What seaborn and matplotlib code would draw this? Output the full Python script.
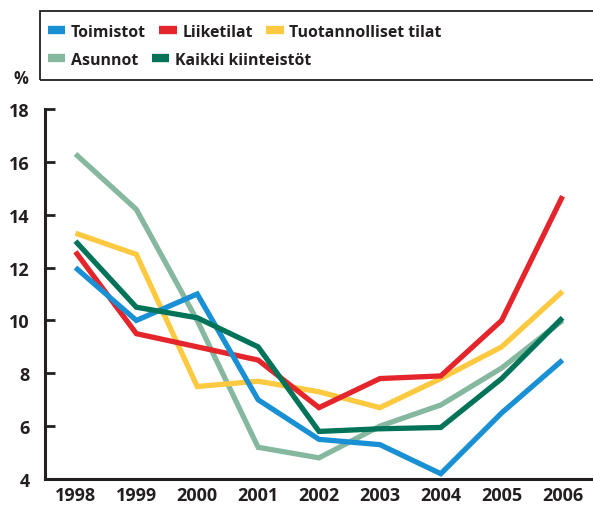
import matplotlib
matplotlib.use("Agg")
import matplotlib.pyplot as plt
import seaborn as sns
import pandas as pd
from matplotlib.lines import Line2D
from matplotlib.patches import Rectangle

years = ["1998", "1999", "2000", "2001", "2002", "2003", "2004", "2005", "2006"]
toimistot = [12.0, 10.0, 11.0, 7.0, 5.5, 5.3, 4.2, 6.5, 8.5]
liiketilat = [12.6, 9.5, 9.0, 8.5, 6.7, 7.8, 7.9, 10.0, 14.7]
tuotannolliset = [13.3, 12.5, 7.5, 7.7, 7.3, 6.7, 7.8, 9.0, 11.1]
asunnot = [16.3, 14.2, 10.0, 5.2, 4.8, 6.0, 6.8, 8.2, 10.0]
kaikki = [13.0, 10.5, 10.1, 9.0, 5.8, 5.9, 5.95, 7.8, 10.1]

series_names = ["Toimistot", "Liiketilat", "Tuotannolliset tilat", "Asunnot", "Kaikki kiinteistöt"]
series_values = [toimistot, liiketilat, tuotannolliset, asunnot, kaikki]
colors = ["#1a90d4", "#e4252b", "#fdc940", "#86b8a0", "#007358"]
yticks = [4, 6, 8, 10, 12, 14, 16, 18]

rows = []
for name, vals in zip(series_names, series_values):
    for i, v in enumerate(vals):
        rows.append({"serie": name, "x": i, "value": v})
df = pd.DataFrame(rows)

sns.set_theme(style="white")
plt.rcParams["font.family"] = ["Open Sans", "DejaVu Sans"]
ink = "#231f20"

fig = plt.figure(figsize=(5.93, 5.06), dpi=100)
ax = fig.add_axes([45 / 593, 26 / 506, 548 / 593, 370 / 506])

# draw order: light green under others
order = ["Asunnot", "Tuotannolliset tilat", "Liiketilat", "Toimistot", "Kaikki kiinteistöt"]
pal = dict(zip(series_names, colors))
for name in order:
    sns.lineplot(data=df[df.serie == name], x="x", y="value", color=pal[name],
                 linewidth=3.8, ax=ax, legend=False, sort=False,
                 solid_joinstyle="miter", solid_capstyle="butt")

ax.set_xlim(-0.5, 8.5)
ax.set_ylim(4, 18)
ax.set_xlabel("")
ax.set_ylabel("")
ax.set_yticks(yticks)
ax.set_yticklabels([str(t) for t in yticks], fontsize=13, fontweight="bold", color=ink)
ax.set_xticks(range(len(years)))
ax.set_xticklabels(years, fontsize=13, fontweight="bold", color=ink)
ax.set_xticks([i + 0.5 for i in range(len(years) - 1)], minor=True)
ax.tick_params(axis="x", which="major", length=0, pad=5)
ax.tick_params(axis="x", which="minor", direction="in", length=7, width=2, color=ink)
ax.tick_params(axis="y", direction="in", length=7, width=2, color=ink, pad=11, left=True)
for s in ["top", "right"]:
    ax.spines[s].set_visible(False)
for s in ["left", "bottom"]:
    ax.spines[s].set_linewidth(2.2)
    ax.spines[s].set_color(ink)
    ax.spines[s].set_zorder(5)
ax.grid(False)

# legend box
fig.patches.append(Rectangle((40 / 593, (506 - 81) / 506), 560 / 593, 69 / 506,
                             transform=fig.transFigure, fill=False, edgecolor=ink, linewidth=1.3))

def handle(c):
    return Line2D([0], [0], color=c, linewidth=6, solid_capstyle="butt")

leg_kw = dict(frameon=False, handlelength=1.1, handletextpad=0.35,
              columnspacing=0.85, borderpad=0, borderaxespad=0, labelcolor=ink,
              prop={"weight": "bold", "size": 11.4})
fig.legend([handle(colors[0]), handle(colors[1]), handle(colors[2])],
           series_names[:3], loc="center left", bbox_to_anchor=(48 / 593, 1 - 33 / 506),
           ncol=3, **leg_kw)
fig.legend([handle(colors[3]), handle(colors[4])],
           series_names[3:], loc="center left", bbox_to_anchor=(48 / 593, 1 - 61 / 506),
           ncol=2, **leg_kw)

fig.text(21 / 593, 1 - 79 / 506, "%", ha="center", va="center", fontsize=12,
         fontweight="bold", color=ink)

fig.savefig("out.png", dpi=100)
